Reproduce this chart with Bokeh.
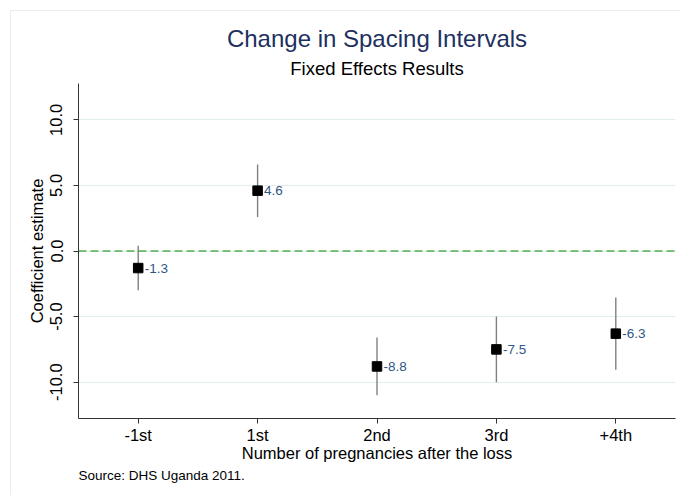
from bokeh.plotting import figure
from bokeh.models import (ColumnDataSource, FactorRange, Range1d, FixedTicker,
                          PrintfTickFormatter, Span, LabelSet, Title)
from bokeh.core.properties import value
from bokeh.embed import file_html
from bokeh.resources import INLINE

# ---- data ----
categories = ["-1st", "1st", "2nd", "3rd", "+4th"]
coef = [-1.3, 4.6, -8.8, -7.5, -6.3]
ci_low = [-3.0, 2.6, -11.0, -10.0, -9.05]
ci_high = [0.4, 6.6, -6.6, -5.0, -3.55]
y_ticks = [-10, -5, 0, 5, 10]
point_labels = ["%.1f" % v for v in coef]

FONT = "Liberation Sans"

src = ColumnDataSource(dict(cat=categories, coef=coef, lo=ci_low, hi=ci_high,
                            lab=point_labels))

p = figure(width=670, height=485, output_backend="svg", toolbar_location=None,
           x_range=FactorRange(*categories, range_padding=0),
           y_range=Range1d(-12.77, 12.77),
           min_border_left=67, min_border_right=6, min_border_top=72,
           min_border_bottom=78)
p.margin = (10, 0, 0, 10)
p.styles = {"border-top": "1px solid #e6eeee", "border-left": "1px solid #e6eeee"}

p.outline_line_color = None
p.background_fill_color = "white"
p.border_fill_color = "white"

# titles (added subtitle first so it sits closest to the plot)
p.title.visible = False
sub = Title(text="Fixed Effects Results", align="center", text_font=FONT,
            text_font_size="18.5px", text_font_style="normal", text_color="black",
            standoff=10)
p.add_layout(sub, "above")
main = Title(text="Change in Spacing Intervals", align="center", text_font=FONT,
             text_font_size="24px", text_font_style="normal", text_color="#1e3060",
             standoff=-2)
p.add_layout(main, "above")

# grid
p.xgrid.visible = False
p.ygrid.ticker = FixedTicker(ticks=y_ticks)
p.ygrid.grid_line_color = "#e4eded"
p.ygrid.grid_line_width = 1

# axes
for ax in (p.xaxis[0], p.yaxis[0]):
    ax.axis_line_color = "#333333"
    ax.major_tick_line_color = "#333333"
    ax.major_tick_out = 5
    ax.major_tick_in = 0
    ax.minor_tick_line_color = None
    ax.major_label_text_font = FONT
    ax.major_label_text_font_size = "16.5px"
    ax.major_label_text_color = "black"
    ax.axis_label_text_font = FONT
    ax.axis_label_text_font_size = "16.5px"
    ax.axis_label_text_font_style = "normal"
    ax.axis_label_text_color = "black"

p.yaxis.ticker = FixedTicker(ticks=y_ticks)
p.yaxis.formatter = PrintfTickFormatter(format="%.1f")
p.yaxis.major_label_orientation = "vertical"
p.yaxis.axis_label = "Coefficient estimate"
p.yaxis.major_label_standoff = 11
p.yaxis.axis_label_standoff = 2

p.xaxis.axis_label = "Number of pregnancies after the loss"
p.xaxis.major_label_standoff = 2
p.xaxis.axis_label_standoff = -3

# zero reference line
p.add_layout(Span(location=0, dimension="width", line_color="#008a00",
                  line_dash="8 4", line_width=1.1))

# CI bars and points
p.segment(x0="cat", y0="lo", x1="cat", y1="hi", source=src,
          line_color="#808080", line_width=1.4)
p.scatter(x="cat", y="coef", source=src, marker="square", size=9.5,
          fill_color="black", line_color="black")
p.add_layout(LabelSet(x="cat", y="coef", text="lab", source=src, x_offset=6.5,
                      text_baseline="middle", text_align="left",
                      text_font_size=value("13.5px"), text_color=value("#2f5685"),
                      text_font=value(FONT)))

# source note
note = Title(text="Source: DHS Uganda 2011.", align="left", text_font=FONT,
             text_font_size="13.5px", text_font_style="normal", text_color="black",
             standoff=2)
p.add_layout(note, "below")

open("out.html", "w").write(file_html(p, INLINE))
